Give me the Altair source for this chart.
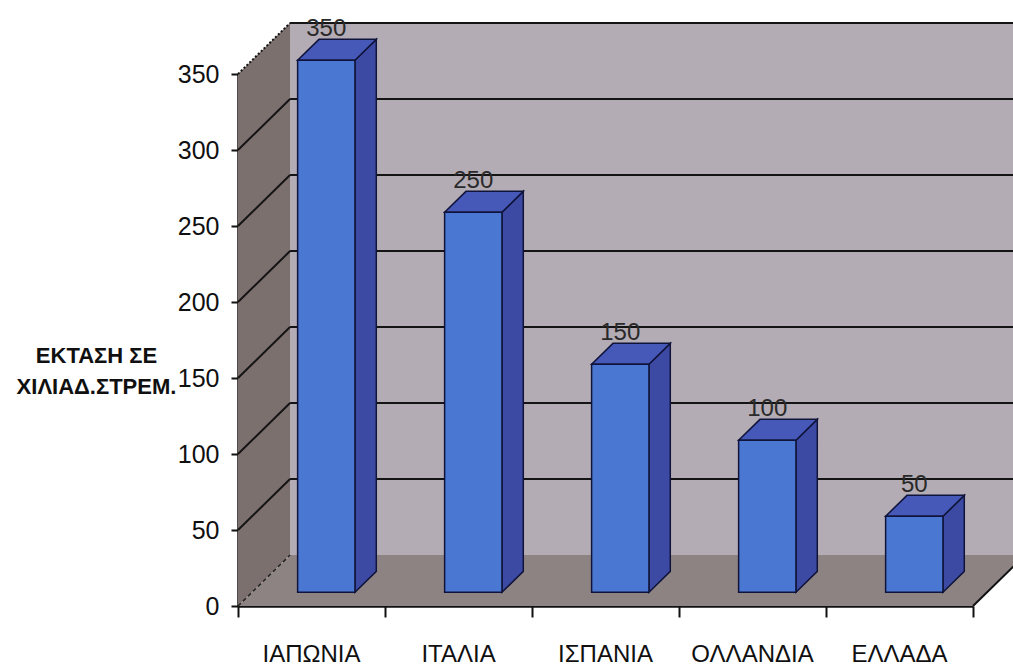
import altair as alt
import pandas as pd

# Cultivated area per country (thousand stremmata)
categories = ["ΙΑΠΩΝΙΑ", "ΙΤΑΛΙΑ", "ΙΣΠΑΝΙΑ", "ΟΛΛΑΝΔΙΑ", "ΕΛΛΑΔΑ"]
values = [350, 250, 150, 100, 50]
y_ticks = [0, 50, 100, 150, 200, 250, 300, 350]
y_title = ["ΕΚΤΑΣΗ ΣΕ", "ΧΙΛΙΑΔ.ΣΤΡΕΜ."]

# pseudo-3D geometry, expressed in scale units
N = len(categories)
YMAX = 350
DX = 0.354           # depth shift along x (category units)
DY = 33.5            # depth shift along y (value units)
D0, D1 = 0.27, 0.68  # front / back depth of the bars
A, B = 0.31, 0.70    # bar extent inside its category (at depth 0)

FONT = "Liberation Sans, Arial"

x_sc = alt.Scale(domain=[0, N], nice=False, zero=False)
y_sc = alt.Scale(domain=[0, YMAX], nice=False, zero=False)

x_axis = alt.Axis(values=list(range(N + 1)), labels=False, grid=False,
                  tickSize=11, tickWidth=2, tickColor="#111",
                  domainColor="#111", domainWidth=2.5)
y_axis = alt.Axis(values=y_ticks, grid=False, tickSize=7, tickWidth=2,
                  tickColor="#111", domainColor="#111", domainWidth=2.5,
                  labelFont=FONT, labelFontSize=25, labelColor="#101010",
                  labelPadding=12,
                  title=y_title, titleAngle=0, titleFont=FONT,
                  titleFontSize=22, titleFontWeight="bold", titleColor="#101010",
                  titleAlign="center", titleBaseline="alphabetic",
                  titleX=-142, titleY=288, titleLineHeight=31)


def X(field):
    return alt.X(field, scale=x_sc, axis=x_axis, title=None)


def Y(field):
    return alt.Y(field, scale=y_sc, axis=y_axis, title=y_title)


# ---- walls and floor ----
left_wall = pd.DataFrame({"x": [0, DX], "y": [0, DY], "y2": [YMAX, YMAX + DY]})
back_wall = pd.DataFrame({"x": [DX], "x2": [N + DX + 0.5], "y": [DY], "y2": [YMAX + DY]})
floor = pd.DataFrame({"y": [0, DY], "x": [0, DX], "x2": [N, N + DX]})

back_layer = alt.Chart(back_wall).mark_rect(color="#B4ACB5").encode(
    x=X("x:Q"), x2="x2:Q", y=Y("y:Q"), y2="y2:Q"
)
left_layer = alt.Chart(left_wall).mark_area(color="#7C706F").encode(
    x=X("x:Q"), y=Y("y:Q"), y2="y2:Q"
)
floor_layer = alt.Chart(floor).mark_area(orient="horizontal", color="#8E8383").encode(
    y=Y("y:Q"), x=X("x:Q"), x2="x2:Q"
)

# ---- gridlines: horizontal on the back wall, diagonal on the side wall ----
grid_vals = [v for v in y_ticks if v > 0]
back_grid = pd.DataFrame({"x": DX, "x2": N + DX + 0.5, "y": [v + DY for v in grid_vals]})
side_grid = pd.DataFrame({"x": 0, "x2": DX, "y": grid_vals, "y2": [v + DY for v in grid_vals],
                          "hidden": [v == YMAX for v in grid_vals]})
back_grid_layer = alt.Chart(back_grid).mark_rule(color="#141414", strokeWidth=2).encode(
    x=X("x:Q"), x2="x2:Q", y=Y("y:Q")
)
side_grid_layer = alt.Chart(side_grid[~side_grid.hidden]).mark_rule(
    color="#141414", strokeWidth=2).encode(
    x=X("x:Q"), x2="x2:Q", y=Y("y:Q"), y2="y2:Q"
)
top_edge_layer = alt.Chart(side_grid[side_grid.hidden]).mark_rule(
    color="#141414", strokeWidth=2, strokeDash=[2, 2]).encode(
    x=X("x:Q"), x2="x2:Q", y=Y("y:Q"), y2="y2:Q"
)
edges = pd.DataFrame({"x": [0, N], "x2": [DX, N + DX], "y": [0, 0], "y2": [DY, DY],
                      "kind": ["hidden", "solid"]})
hidden_edge = alt.Chart(edges[edges.kind == "hidden"]).mark_rule(
    color="#222", strokeWidth=1.5, strokeDash=[4, 3]).encode(
    x=X("x:Q"), x2="x2:Q", y=Y("y:Q"), y2="y2:Q"
)
solid_edge = alt.Chart(edges[edges.kind == "solid"]).mark_rule(
    color="#111", strokeWidth=2).encode(
    x=X("x:Q"), x2="x2:Q", y=Y("y:Q"), y2="y2:Q"
)

# ---- 3D bars ----
front = pd.DataFrame({
    "cat": categories,
    "x": [i + A + D0 * DX for i in range(N)],
    "x2": [i + B + D0 * DX for i in range(N)],
    "y": [D0 * DY] * N,
    "y2": [v + D0 * DY for v in values],
})
side_rows, top_rows = [], []
for i, (c, v) in enumerate(zip(categories, values)):
    for d in (D0, D1):
        side_rows.append({"cat": c, "x": i + B + d * DX, "y": d * DY, "y2": v + d * DY})
        top_rows.append({"cat": c, "y": v + d * DY, "x": i + A + d * DX, "x2": i + B + d * DX})
side = pd.DataFrame(side_rows)
top = pd.DataFrame(top_rows)

side_layer = alt.Chart(side).mark_area(color="#3C4AA4", stroke="#10143A", strokeWidth=1.5).encode(
    x=X("x:Q"), y=Y("y:Q"), y2="y2:Q", detail="cat:N"
)
top_layer = alt.Chart(top).mark_area(orient="horizontal", color="#4658B8",
                                     stroke="#10143A", strokeWidth=1.5).encode(
    y=Y("y:Q"), x=X("x:Q"), x2="x2:Q", detail="cat:N"
)
front_layer = alt.Chart(front).mark_rect(color="#4A77D2", stroke="#10143A", strokeWidth=1.5).encode(
    x=X("x:Q"), x2="x2:Q", y=Y("y:Q"), y2="y2:Q"
)

# ---- value labels and category labels ----
labels = pd.DataFrame({
    "cat": categories,
    "val": values,
    "x": [i + (A + B) / 2 + D0 * DX for i in range(N)],
    "y": [v + D1 * DY + 2 for v in values],
    "xc": [i + 0.5 for i in range(N)],
})
value_text = alt.Chart(labels).mark_text(
    font=FONT, fontSize=24, color="#2a2a2a", baseline="alphabetic", align="center"
).encode(
    x=X("x:Q"), y=Y("y:Q"), text="val:Q"
)
cat_text = alt.Chart(labels).mark_text(
    font=FONT, fontSize=24, color="#101010", baseline="alphabetic", align="center"
).encode(
    x=X("xc:Q"), y=alt.value(588), text="cat:N"
)

chart = alt.layer(
    back_layer, left_layer, floor_layer, back_grid_layer, side_grid_layer, top_edge_layer,
    hidden_edge, solid_edge, side_layer, top_layer, front_layer, value_text, cat_text
).properties(
    width=735, height=532,
    padding={"left": 238, "top": 74, "right": 40, "bottom": 60},
    autosize=alt.AutoSizeParams(type="none"),
    background="white",
).configure_view(stroke=None)

chart.save("out.html", embed_options={"renderer": "svg", "actions": False})
